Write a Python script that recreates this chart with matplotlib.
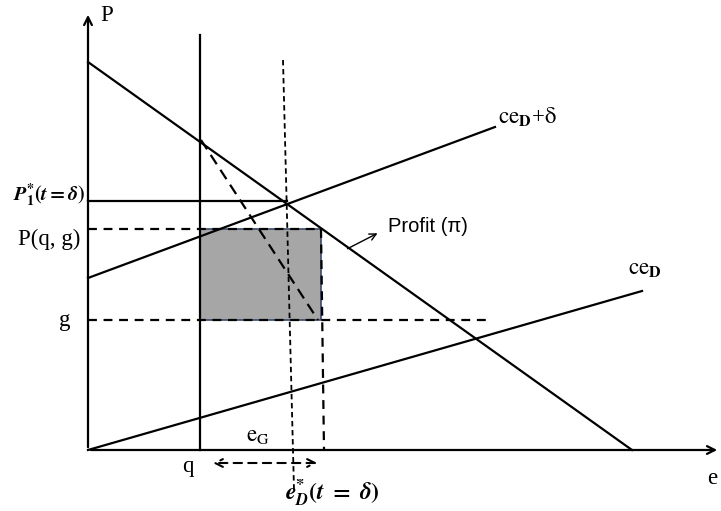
import matplotlib
matplotlib.use("Agg")
import matplotlib.pyplot as plt
from matplotlib.patches import Rectangle

plt.rcParams['mathtext.fontset'] = 'stix'
plt.rcParams['font.family'] = ['Liberation Serif', 'DejaVu Serif']

# Diagram geometry (data units: pixels from origin)
demand = [(0, 388), (544, 0)]
ce_d_delta = [(0, 172), (407, 323)]
ce_d = [(0, 0), (554, 159)]
q_x = 112
p1_y = 249
pqg_y = 221
g_y = 130
eG_x = 233
eD_line = [(195, 390), (206, -40)]
dashed_diag = [(113, 310), (230, 130)]

fig = plt.figure(figsize=(7.21, 5.11), dpi=100)
ax = fig.add_axes([0, 0, 1, 1])
ax.set_xlim(-88, 633)
ax.set_ylim(-61, 450)
ax.axis('off')

lw = 1.6
# axes
ax.annotate('', xy=(0, 438), xytext=(0, 0),
            arrowprops=dict(arrowstyle='->', lw=lw, color='black', mutation_scale=14))
ax.annotate('', xy=(632, 0), xytext=(0, 0),
            arrowprops=dict(arrowstyle='->', lw=lw, color='black', mutation_scale=14))

# shaded profit rectangle
ax.add_patch(Rectangle((q_x, g_y), eG_x - q_x, pqg_y - g_y, facecolor='#a6a6a6',
                       edgecolor='#3a4a6a', lw=1.2, zorder=1))

# solid lines
for seg in (demand, ce_d_delta, ce_d):
    ax.plot([seg[0][0], seg[1][0]], [seg[0][1], seg[1][1]], color='black', lw=lw, zorder=3)
ax.plot([q_x, q_x], [0, 415], color='black', lw=lw, zorder=3)
ax.plot([0, 199], [p1_y, p1_y], color='black', lw=lw, zorder=3)

# dashed lines
dash = dict(color='black', lw=lw, ls=(0, (4, 3)), zorder=3)
ax.plot([0, 230], [pqg_y, pqg_y], **dash)
ax.plot([0, 402], [g_y, g_y], **dash)
ax.plot([eG_x, eG_x + 3], [pqg_y, 0], **dash)
ax.plot([dashed_diag[0][0], dashed_diag[1][0]], [dashed_diag[0][1], dashed_diag[1][1]],
        color='black', lw=lw, ls=(0, (5, 3)), zorder=3)
ax.plot([eD_line[0][0], eD_line[1][0]], [eD_line[0][1], eD_line[1][1]],
        color='black', lw=1.3, ls=(0, (3, 2)), zorder=3)

# profit arrow
ax.annotate('', xy=(292, 218), xytext=(257, 200),
            arrowprops=dict(arrowstyle='->', lw=1.0, color='black', mutation_scale=12))
ax.text(300, 224, 'Profit (\u03c0)', fontsize=14.5, family=['Liberation Sans', 'DejaVu Sans'],
        va='center', ha='left')

# double arrow for e_G
ax.annotate('', xy=(122, -13), xytext=(232, -13),
            arrowprops=dict(arrowstyle='<->', lw=1.5, color='black', ls=(0, (4, 3)),
                            mutation_scale=14))

# labels
fs = 16.5
ax.text(12, 435, 'P', fontsize=fs, va='center', ha='left')
ax.text(624, -28, 'e', fontsize=fs, va='center', ha='center')
ax.text(100, -16, 'q', fontsize=fs, va='center', ha='center')
ax.text(-23, 130, 'g', fontsize=fs, va='center', ha='center')
ax.text(-70, 211, 'P(q, g)', fontsize=fs, va='center', ha='left')
ax.text(-3, 255, r'$\mathbfit{P}_{\mathbf{1}}^{\mathbf{*}}\mathbf{(}\mathbfit{t}\mathbf{=}\mathbfit{\delta}\mathbf{)}$',
        fontsize=14.5, va='center', ha='right')
ax.text(158, 15, r'$\mathrm{e}_{\mathrm{G}}$', fontsize=fs, va='center', ha='left')
ax.text(197, -43, r'$\mathbfit{e}_{\mathbfit{D}}^{\mathbf{*}}\mathbf{(}\mathbfit{t}\ \mathbf{=}\ \mathbfit{\delta}\mathbf{)}$',
        fontsize=17, va='center', ha='left')
ax.text(410, 334, r'$\mathrm{ce}_{\mathbf{D}}$+$\mathrm{\delta}$', fontsize=fs, va='center', ha='left')
ax.text(540, 182, r'$\mathrm{ce}_{\mathbf{D}}$', fontsize=fs, va='center', ha='left')

fig.savefig('out.png', dpi=100)
